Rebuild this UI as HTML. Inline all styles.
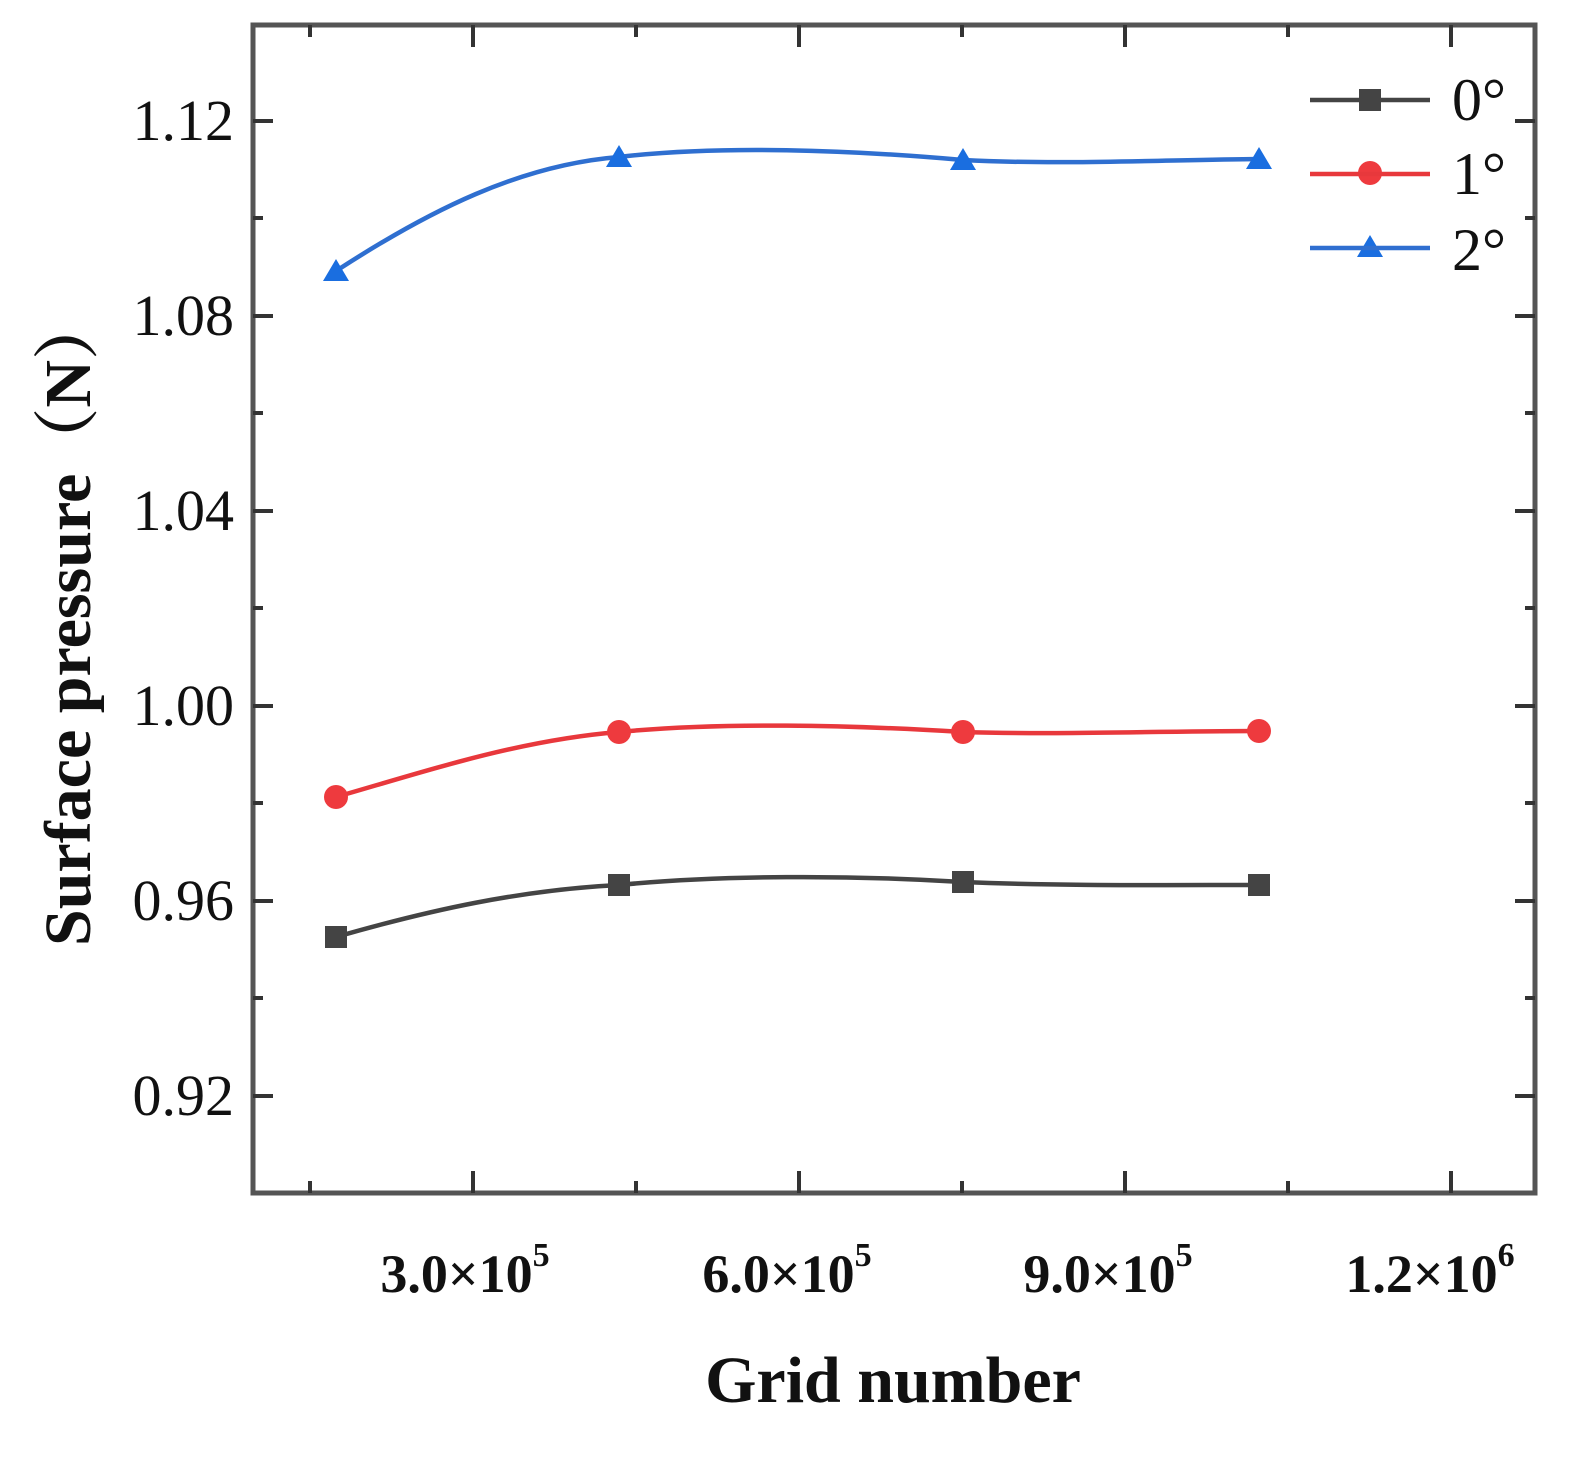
<!DOCTYPE html>
<html><head><meta charset="utf-8"><style>body{margin:0;background:#fff}</style></head>
<body>
<svg width="1595" height="1453" xmlns="http://www.w3.org/2000/svg" font-family="Liberation Serif, serif">
<rect width="1595" height="1453" fill="#fff"/>
<g stroke="#555" stroke-width="5" fill="none">
<rect x="253" y="25" width="1282" height="1168"/>
</g>
<g stroke="#333" stroke-width="4">
<path d="M253,121h20M253,316h20M253,511h20M253,706h20M253,901h20M253,1096h20
M253,218h10M253,413h10M253,608h10M253,803h10M253,998h10
M1535,121h-20M1535,316h-20M1535,511h-20M1535,706h-20M1535,901h-20M1535,1096h-20
M1535,218h-10M1535,413h-10M1535,608h-10M1535,803h-10M1535,998h-10"/>
<path d="M473,1193v-22M799,1193v-22M1125,1193v-22M1451,1193v-22
M310,1193v-12M636,1193v-12M962,1193v-12M1288,1193v-12
M473,25v22M799,25v22M1125,25v22M1451,25v22
M310,25v12M636,25v12M962,25v12M1288,25v12"/>
</g>
<g font-size="58" text-anchor="end" fill="#111">
<text x="234" y="140">1.12</text>
<text x="234" y="335">1.08</text>
<text x="234" y="530">1.04</text>
<text x="234" y="725">1.00</text>
<text x="234" y="920">0.96</text>
<text x="234" y="1115">0.92</text>
</g>
<g font-size="54" font-weight="bold" text-anchor="middle" fill="#111">
<text x="465" y="1292">3.0×10<tspan font-size="34" dy="-26">5</tspan></text>
<text x="787" y="1292">6.0×10<tspan font-size="34" dy="-26">5</tspan></text>
<text x="1108" y="1292">9.0×10<tspan font-size="34" dy="-26">5</tspan></text>
<text x="1430" y="1292">1.2×10<tspan font-size="34" dy="-26">6</tspan></text>
</g>
<text x="893" y="1402" font-size="66" font-weight="bold" text-anchor="middle" fill="#111">Grid number</text>
<text transform="translate(90,620) rotate(-90)" font-size="66" font-weight="bold" text-anchor="middle" fill="#111" font-family="Liberation Serif, Noto Serif CJK SC, serif">Surface pressure（N）</text>
<g fill="none" stroke-width="4.5">
<path stroke="#2f6fd0" d="M336,271 C430,210 520,165 619,157 C720,145 850,150 963,160 C1060,165 1160,160 1259,159"/>
<path stroke="#e8383c" d="M336,797 C430,770 520,740 619,732 C720,722 850,725 963,732 C1060,735 1160,731 1259,731"/>
<path stroke="#444" d="M336,937 C430,910 520,890 619,885 C720,875 850,875 963,882 C1060,886 1160,885 1259,885"/>
</g>
<g fill="#1a6ee0">
<path d="M336,259l13,22h-26z"/><path d="M619,145l13,22h-26z"/><path d="M963,148l13,22h-26z"/><path d="M1259,147l13,22h-26z"/>
<path d="M1370,235l13,22h-26z"/>
</g>
<g fill="#ee3a3e">
<circle cx="336" cy="797" r="12"/><circle cx="619" cy="732" r="12"/><circle cx="963" cy="732" r="12"/><circle cx="1259" cy="731" r="12"/>
<circle cx="1370" cy="173" r="12"/>
</g>
<g fill="#444">
<rect x="325" y="926" width="22" height="22"/><rect x="608" y="874" width="22" height="22"/><rect x="952" y="871" width="22" height="22"/><rect x="1248" y="874" width="22" height="22"/>
<rect x="1359" y="89" width="22" height="22"/>
</g>
<g stroke-width="4.5">
<path stroke="#444" d="M1310,100h120"/>
<path stroke="#e8383c" d="M1310,174h120"/>
<path stroke="#2f6fd0" d="M1310,248h120"/>
</g>
<g font-size="60" fill="#111">
<text x="1452" y="120">0°</text>
<text x="1452" y="194">1°</text>
<text x="1452" y="270">2°</text>
</g>
</svg>
</body></html>
